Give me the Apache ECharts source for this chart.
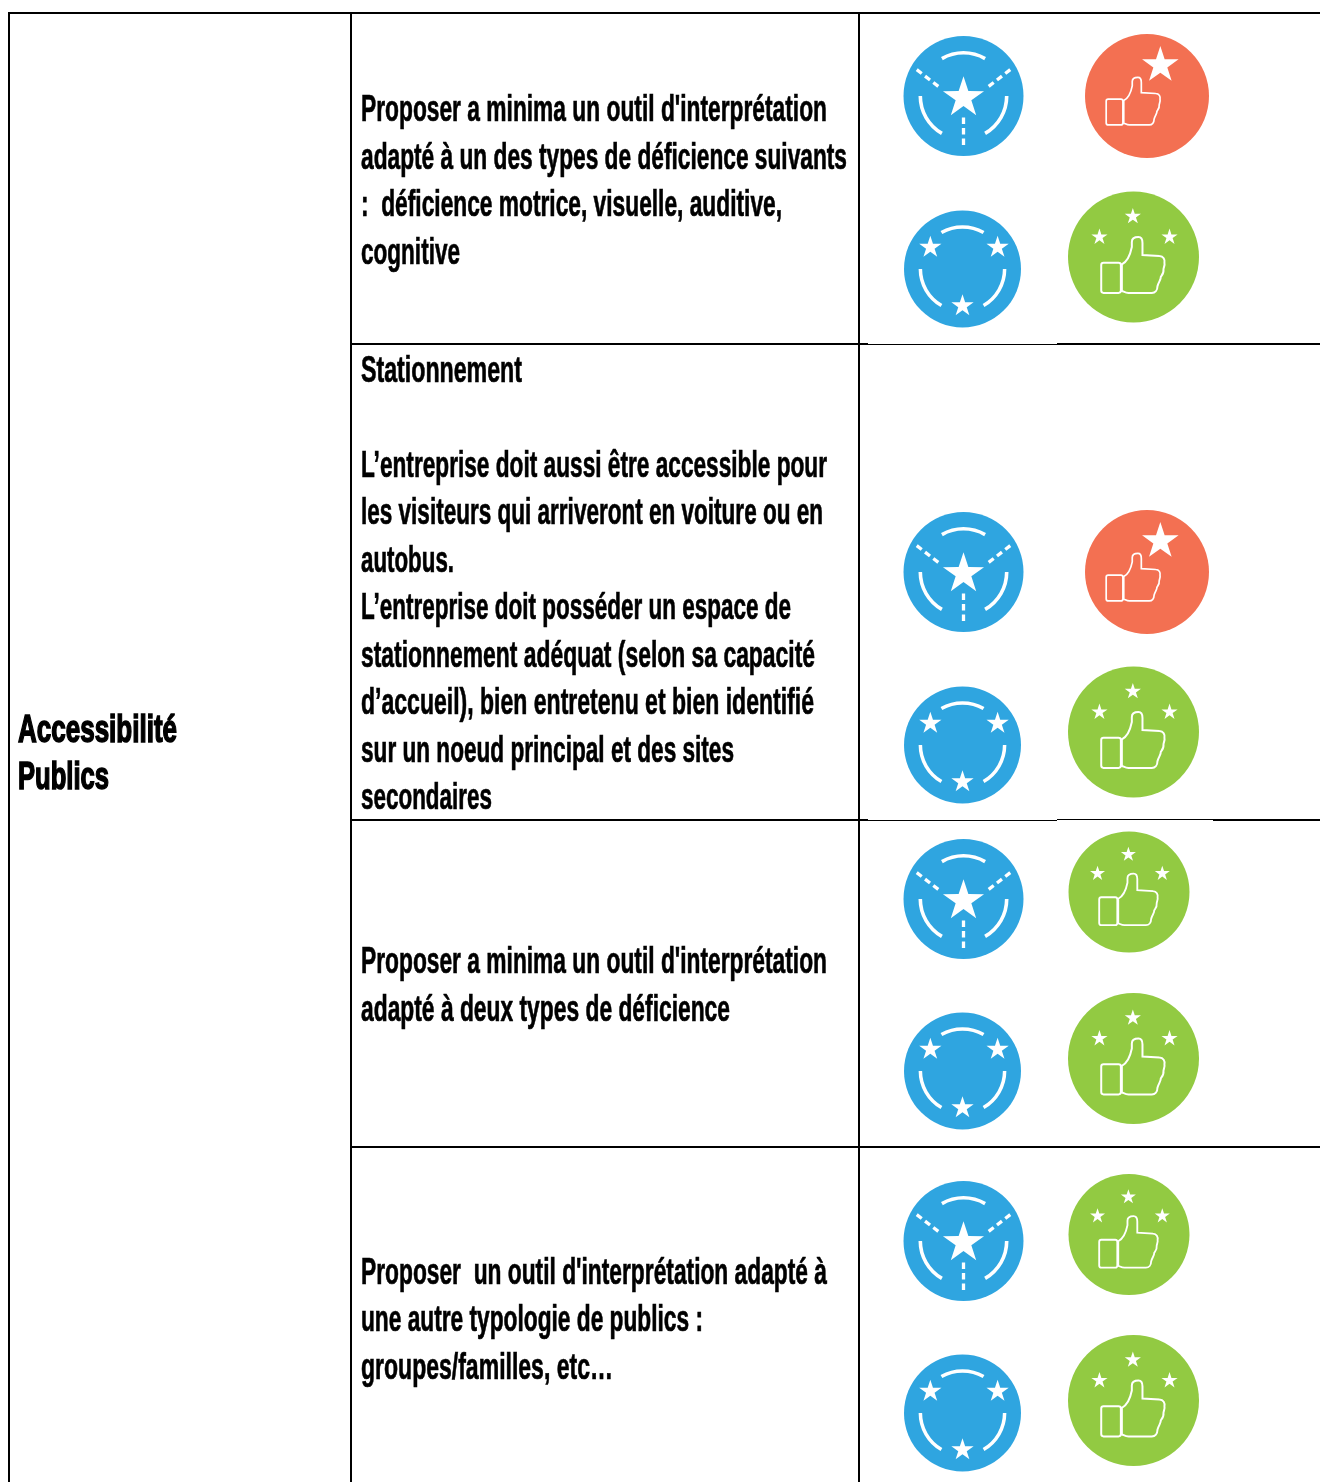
<!DOCTYPE html>
<html>
<head>
<meta charset="utf-8">
<title>Accessibilité Publics</title>
<script src="https://cdn.jsdelivr.net/npm/echarts@6/dist/echarts.min.js"></script>
<style>
  html, body { margin: 0; padding: 0; background: #fff; }
  #chart { width: 1320px; height: 1482px; }
</style>
</head>
<body>
<div id="chart"></div>
<script>
// contents of the table
const rowTitle = ['Accessibilité', 'Publics'];
const row1Lines = [
  'Proposer a minima un outil d\'interprétation',
  'adapté à un des types de déficience suivants',
  ':  déficience motrice, visuelle, auditive,',
  'cognitive',
];
const row2Lines = [
  'Stationnement',
  'L’entreprise doit aussi être accessible pour',
  'les visiteurs qui arriveront en voiture ou en',
  'autobus.',
  'L’entreprise doit posséder un espace de',
  'stationnement adéquat (selon sa capacité',
  'd’accueil), bien entretenu et bien identifié',
  'sur un noeud principal et des sites',
  'secondaires',
];
const row3Lines = [
  'Proposer a minima un outil d\'interprétation',
  'adapté à deux types de déficience',
];
const row4Lines = [
  'Proposer  un outil d\'interprétation adapté à',
  'une autre typologie de publics :',
  'groupes/familles, etc…',
];
const iconKinds = [
  'road', 'thumbStar', 'stars', 'thumbStars',
  'road', 'thumbStar', 'stars', 'thumbStars',
  'road', 'thumbStars', 'stars', 'thumbStars',
  'road', 'thumbStars', 'stars', 'thumbStars',
];

// where things sit, in picture pixels (the hidden axes run over the whole picture)
const iconX = [963.5, 1147, 962.5, 1133.5, 963.5, 1147, 962.5, 1133.5, 963.5, 1129, 962.5, 1133.5, 963.5, 1129, 962.5, 1133.5];
const iconY = [96, 96, 269, 257, 572, 572, 745, 732, 899, 892, 1071, 1058.5, 1241, 1234.5, 1413, 1400.5];
const iconR = [60, 62, 58.5, 65.5, 60, 62, 58.5, 65.5, 60, 60.5, 58.5, 65.5, 60, 60.5, 58.5, 65.5];
const titleY = [732, 779];
const titleEnd = [177, 109];
const row1Y = [111, 159, 206, 254];
const row1End = [827, 847, 782, 460];
const row2Y = [372, 467, 514, 562, 609, 657, 704, 752, 799];
const row2End = [522, 827, 823, 454, 791, 815, 814, 734, 492];
const row3Y = [963, 1011];
const row3End = [827, 730];
const row4Y = [1274, 1321, 1369];
const row4End = [827, 703, 613];
const rules = [
  [8, 13, 1320, 13, 2],
  [9, 13, 9, 1482, 2],
  [351, 13, 351, 1482, 2],
  [859, 13, 859, 1482, 2],
  [351, 344, 868, 344, 2],
  [868, 344.5, 1057, 344.5, 1],
  [1057, 344, 1320, 344, 2],
  [351, 820, 868, 820, 2],
  [868, 820.5, 1057, 820.5, 1],
  [1057, 819.5, 1213, 819.5, 1],
  [1213, 820, 1320, 820, 2],
  [351, 1147, 1320, 1147, 2],
];

const BLUE = '#2fa5e0';
const ORANGE = '#f37052';
const GREEN = '#92ca42';
const FONT = '"Liberation Sans Narrow", "Liberation Sans", sans-serif';
const THUMB = 'M-35 22C-15 12-8-15-5-30L-5-45C-5-58 8-60 15-60C25-60 27-50 27-42L27-6L78-3C90-3 95 8 93 18' +
  'C95 25 90 32 90 38C92 48 85 55 82 60C83 68 75 75 72 88C72 100 65 108 55 108L-15 108C-25 108-30 103-35 102Z' +
  'M-90 17L-45 17C-41 17-38 20-38 24L-38 101C-38 105-41 108-45 108L-90 108C-94 108-97 105-97 101L-97 24C-97 20-94 17-90 17Z';

const measure = document.createElement('canvas').getContext('2d');

function star(cx, cy, outer) {
  const points = [];
  for (let i = 0; i < 10; i++) {
    const a = -Math.PI / 2 + (i * Math.PI) / 5;
    const d = i % 2 ? outer * 0.382 : outer;
    points.push([cx + d * Math.cos(a), cy + d * Math.sin(a)]);
  }
  return { type: 'polygon', shape: { points: points }, style: { fill: '#fff' } };
}

function disc(color) {
  return { type: 'circle', shape: { cx: 0, cy: 0, r: 100 }, style: { fill: color } };
}

function ringArc(from, to) {
  return {
    type: 'arc',
    shape: { cx: 0, cy: 0, r: 72, startAngle: (from * Math.PI) / 180, endAngle: (to * Math.PI) / 180 },
    style: { fill: 'none', stroke: '#fff', lineWidth: 6 },
  };
}

function dashes(x1, y1, x2, y2) {
  return {
    type: 'line',
    shape: { x1: x1, y1: y1, x2: x2, y2: y2 },
    style: { stroke: '#fff', lineWidth: 5.5, lineDash: [10.5, 7] },
  };
}

function thumb(x, y, scale) {
  return {
    type: 'path',
    x: x,
    y: y,
    scaleX: scale,
    scaleY: scale,
    shape: { pathData: THUMB },
    style: { fill: 'none', stroke: '#fff', lineWidth: 6 },
  };
}

// every icon is drawn on a 100 unit radius
function iconParts(kind) {
  const arcs = [ringArc(-120, -60), ringArc(0, 60), ringArc(120, 180)];
  if (kind === 'road') {
    return [
      disc(BLUE), ...arcs, star(0, 3, 36),
      dashes(0, 36, 0, 84),
      dashes(-42, -16, -78, -44),
      dashes(42, -16, 78, -44),
    ];
  }
  if (kind === 'stars') {
    return [disc(BLUE), ...arcs, star(-55, -37, 20), star(60, -37, 20), star(0, 63, 20)];
  }
  if (kind === 'thumbStar') {
    return [disc(ORANGE), star(21.5, -49.5, 31), thumb(-21.5, -2.7, 0.457)];
  }
  return [
    disc(GREEN),
    star(-1, -62, 13), star(-52, -30.5, 13), star(55, -30.5, 13),
    thumb(0, 0, 0.508),
  ];
}

function textSeries(lines, ys, ends, left, size, heavy) {
  const font = 'bold ' + size + 'px ' + FONT;
  return {
    type: 'custom',
    coordinateSystem: 'cartesian2d',
    clip: false,
    silent: true,
    data: lines.map(function (line, i) { return [left, ys[i], ends[i]]; }),
    renderItem: function (params, api) {
      const start = api.coord([api.value(0), api.value(1)]);
      const end = api.coord([api.value(2), api.value(1)]);
      const line = lines[params.dataIndex];
      measure.font = font;
      return {
        type: 'text',
        x: start[0],
        y: start[1],
        scaleX: (end[0] - start[0]) / measure.measureText(line).width,
        style: {
          text: line,
          x: 0,
          y: 0,
          fill: '#000',
          stroke: '#000',
          lineWidth: heavy,
          font: font,
          align: 'left',
          verticalAlign: 'middle',
        },
      };
    },
  };
}

const chart = echarts.init(document.getElementById('chart'), null, { renderer: 'canvas' });

chart.setOption({
  animation: false,
  grid: { left: 0, right: 0, top: 0, bottom: 0 },
  xAxis: { type: 'value', min: 0, max: 1320, show: false },
  yAxis: { type: 'value', min: 0, max: 1482, inverse: true, show: false },
  series: [
    {
      type: 'custom',
      coordinateSystem: 'cartesian2d',
      clip: false,
      silent: true,
      data: rules,
      renderItem: function (params, api) {
        const a = api.coord([api.value(0), api.value(1)]);
        const b = api.coord([api.value(2), api.value(3)]);
        return {
          type: 'line',
          shape: { x1: a[0], y1: a[1], x2: b[0], y2: b[1] },
          style: { stroke: '#000', lineWidth: api.value(4) },
        };
      },
    },
    {
      type: 'custom',
      coordinateSystem: 'cartesian2d',
      clip: false,
      silent: true,
      data: iconX.map(function (x, i) { return [x, iconY[i], iconR[i]]; }),
      renderItem: function (params, api) {
        const c = api.coord([api.value(0), api.value(1)]);
        const s = api.value(2) / 100;
        return {
          type: 'group',
          x: c[0],
          y: c[1],
          scaleX: s,
          scaleY: s,
          children: iconParts(iconKinds[params.dataIndex]),
        };
      },
    },
    textSeries(rowTitle, titleY, titleEnd, 18, 38, 1.6),
    textSeries(row1Lines, row1Y, row1End, 361, 37, 0.7),
    textSeries(row2Lines, row2Y, row2End, 361, 37, 0.7),
    textSeries(row3Lines, row3Y, row3End, 361, 37, 0.7),
    textSeries(row4Lines, row4Y, row4End, 361, 37, 0.7),
  ],
});
</script>
</body>
</html>
